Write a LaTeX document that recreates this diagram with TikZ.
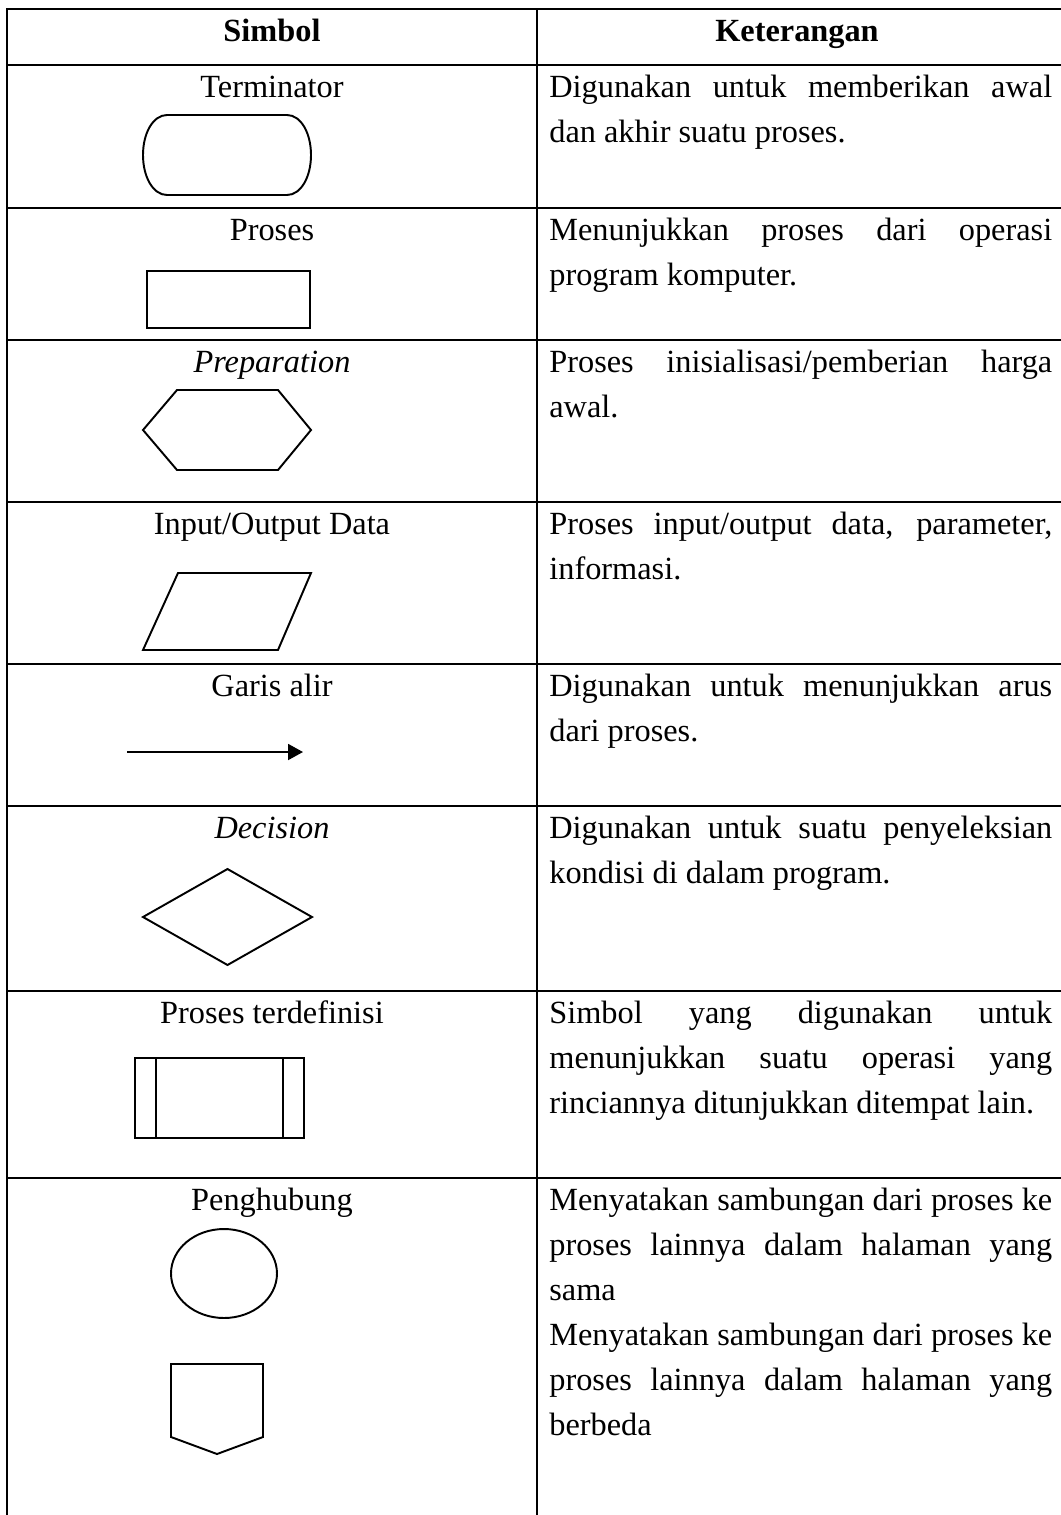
\documentclass[tikz,border=0pt]{standalone}
\usepackage{fontspec}
\setmainfont{Liberation Serif}
\usetikzlibrary{arrows.meta}
\newlength{\cellw}\setlength{\cellw}{10.06cm}
% one fully justified line of the description column
\newcommand{\jl}[1]{\makebox[\cellw][s]{#1}}
\begin{document}
\begin{tikzpicture}[x=0.02cm,y=-0.02cm,
  rule/.style={line width=1.6pt},
  shp/.style={line width=1.1pt, line join=miter},
  txt/.style={inner sep=0pt, font=\fontsize{18.4}{25.6}\selectfont},
  lbl/.style={txt, anchor=base},
  desc/.style={txt, anchor=base west},
  hdr/.style={txt, anchor=base, font=\fontsize{18.4}{25.6}\selectfont\bfseries}]
\useasboundingbox (0,0) rectangle (1061,1515);

% table rules
\draw[rule] (7,1515) -- (7,9) -- (1061,9);
\draw[rule] (537,9) -- (537,1515);
\foreach \y in {65,208,340,502,664,806,991,1178}
  \draw[rule] (7,\y) -- (1061,\y);

% header
\node[hdr] (hs) at (272,41) {Simbol};
\node[hdr] (hk) at (797,41) {Keterangan};

% Terminator
\node[lbl] (l1) at (272,97) {Terminator};
\draw[shp] (167,115) -- (287,115)
  .. controls (300.8,115) and (311,132.9) .. (311,155)
  .. controls (311,177.1) and (300.8,195) .. (287,195)
  -- (167,195)
  .. controls (153.2,195) and (143,177.1) .. (143,155)
  .. controls (143,132.9) and (153.2,115) .. (167,115) -- cycle;
\node[desc] (d1a) at (549,97) {\jl{Digunakan untuk memberikan awal}};
\node[desc] (d1b) at (549,142) {dan akhir suatu proses.};

% Proses
\node[lbl] (l2) at (272,240) {Proses};
\draw[shp] (147,271) rectangle (310,328);
\node[desc] (d2a) at (549,240) {\jl{Menunjukkan proses dari operasi}};
\node[desc] (d2b) at (549,285) {program komputer.};

% Preparation
\node[lbl] (l3) at (272,372) {\itshape Preparation};
\draw[shp] (143,430) -- (177,390) -- (278,390) -- (311,430) -- (278,470) -- (177,470) -- cycle;
\node[desc] (d3a) at (549,372) {\jl{Proses inisialisasi/pemberian harga}};
\node[desc] (d3b) at (549,417) {awal.};

% Input/Output Data
\node[lbl] (l4) at (272,534) {Input/Output Data};
\draw[shp] (143,650) -- (178,573) -- (311,573) -- (278,650) -- cycle;
\node[desc] (d4a) at (549,534) {\jl{Proses input/output data, parameter,}};
\node[desc] (d4b) at (549,579) {informasi.};

% Garis alir
\node[lbl] (l5) at (272,696) {Garis alir};
\coordinate (a0) at (127,752);
\coordinate (a1) at (303,752);
\draw[shp, -{Triangle[length=0.3cm, width=0.32cm]}] (a0) -- (a1);
\node[desc] (d5a) at (549,696) {\jl{Digunakan untuk menunjukkan arus}};
\node[desc] (d5b) at (549,741) {dari proses.};

% Decision
\node[lbl] (l6) at (272,838) {\itshape Decision};
\draw[shp] (143,917) -- (227.5,869) -- (312,917) -- (227.5,965) -- cycle;
\node[desc] (d6a) at (549,838) {\jl{Digunakan untuk suatu penyeleksian}};
\node[desc] (d6b) at (549,883) {kondisi di dalam program.};

% Proses terdefinisi
\node[lbl] (l7) at (272,1023) {Proses terdefinisi};
\draw[shp] (135,1058) rectangle (304,1138);
\draw[shp] (156,1058) -- (156,1138);
\draw[shp] (283,1058) -- (283,1138);
\node[desc] (d7a) at (549,1023) {\jl{Simbol yang digunakan untuk}};
\node[desc] (d7b) at (549,1068) {\jl{menunjukkan suatu operasi yang}};
\node[desc] (d7c) at (549,1113) {rinciannya ditunjukkan ditempat lain.};

% Penghubung
\node[lbl] (l8) at (272,1210) {Penghubung};
\draw[shp] (224,1273.5) ellipse [x radius=1.06cm, y radius=0.89cm];
\draw[shp] (171,1364) -- (263,1364) -- (263,1437) -- (217,1454) -- (171,1437) -- cycle;
\node[desc] (d8a) at (549,1210) {\jl{Menyatakan sambungan dari proses ke}};
\node[desc] (d8b) at (549,1255) {\jl{proses lainnya dalam halaman yang}};
\node[desc] (d8c) at (549,1300) {sama};
\node[desc] (d8d) at (549,1345) {\jl{Menyatakan sambungan dari proses ke}};
\node[desc] (d8e) at (549,1390) {\jl{proses lainnya dalam halaman yang}};
\node[desc] (d8f) at (549,1435) {berbeda};
\end{tikzpicture}
\end{document}
